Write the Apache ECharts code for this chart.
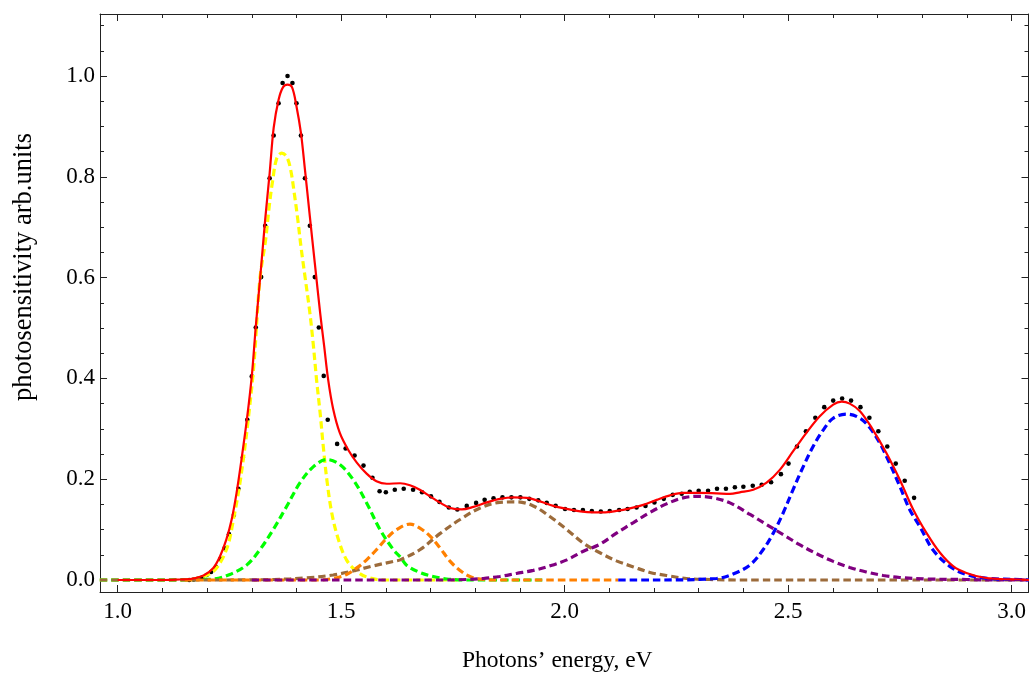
<!DOCTYPE html>
<html>
<head>
<meta charset="utf-8">
<script src="https://cdn.jsdelivr.net/npm/echarts@6/dist/echarts.min.js"></script>
<style>html,body{margin:0;padding:0;background:#fff}#c{width:1029px;height:677px}</style>
</head>
<body>
<div id="c"></div>
<script>
// ---- axis ranges and ticks ----
const X_MIN = 0.9604, X_MAX = 3.038;
const Y_MIN = -0.0238, Y_MAX = 1.123;
const X_TICKS = [1.0, 1.5, 2.0, 2.5, 3.0];
const X_MINOR = [1.0,1.1,1.2,1.3,1.4,1.5,1.6,1.7,1.8,1.9,2.0,2.1,2.2,2.3,2.4,2.5,2.6,2.7,2.8,2.9,3.0];
const Y_TICKS = [0.0, 0.2, 0.4, 0.6, 0.8, 1.0];
const Y_MINOR = [0,0.05,0.1,0.15,0.2,0.25,0.3,0.35,0.4,0.45,0.5,0.55,0.6,0.65,0.7,0.75,0.8,0.85,0.9,0.95,1.0,1.05,1.1];
const X_TITLE = 'Photons\u2019 energy, eV';
const Y_TITLE = 'photosensitivity arb.units';

// ---- measured points (black dots) ----
const measured = [
[1.160,0.000],[1.170,0.001],[1.180,0.003],[1.189,0.005],[1.199,0.010],[1.209,0.016],[1.220,0.026],
[1.230,0.042],[1.239,0.063],[1.249,0.091],[1.260,0.129],[1.270,0.181],[1.280,0.243],[1.290,0.318],
[1.300,0.404],[1.309,0.501],[1.321,0.601],[1.330,0.703],[1.340,0.797],[1.349,0.882],[1.360,0.946],
[1.369,0.986],[1.380,1.000],[1.391,0.986],[1.400,0.946],[1.410,0.882],[1.419,0.797],[1.430,0.703],
[1.441,0.601],[1.450,0.501],[1.461,0.405],[1.470,0.318],[1.491,0.270],[1.510,0.261],[1.530,0.247],
[1.550,0.227],[1.570,0.203],[1.586,0.176],[1.600,0.174],[1.620,0.179],[1.640,0.181],[1.661,0.179],
[1.681,0.174],[1.701,0.166],[1.720,0.155],[1.741,0.144],[1.760,0.140],[1.781,0.147],[1.802,0.153],
[1.821,0.159],[1.841,0.162],[1.861,0.164],[1.881,0.164],[1.901,0.164],[1.921,0.161],[1.941,0.158],
[1.960,0.153],[1.980,0.147],[2.001,0.141],[2.021,0.139],[2.041,0.139],[2.061,0.137],[2.081,0.136],
[2.101,0.137],[2.122,0.139],[2.141,0.141],[2.161,0.144],[2.181,0.147],[2.201,0.154],[2.222,0.161],
[2.242,0.169],[2.262,0.171],[2.280,0.175],[2.300,0.177],[2.321,0.177],[2.341,0.181],[2.361,0.181],
[2.381,0.184],[2.400,0.185],[2.421,0.187],[2.441,0.189],[2.462,0.194],[2.484,0.210],[2.501,0.231],
[2.520,0.265],[2.540,0.295],[2.561,0.322],[2.581,0.343],[2.601,0.356],[2.621,0.360],[2.641,0.356],
[2.662,0.343],[2.682,0.322],[2.702,0.295],[2.722,0.265],[2.741,0.231],[2.761,0.197],[2.782,0.163]
];

// ---- fitted sum (red) ----
const fitSum = [
[1.000,0.000],[1.100,0.000],[1.139,0.001],[1.162,0.002],[1.192,0.009],[1.214,0.024],[1.229,0.047],
[1.243,0.080],[1.255,0.120],[1.266,0.173],[1.277,0.239],[1.289,0.318],[1.300,0.404],[1.309,0.503],
[1.321,0.622],[1.330,0.715],[1.340,0.807],[1.349,0.897],[1.360,0.953],[1.370,0.978],[1.380,0.983],
[1.390,0.978],[1.400,0.940],[1.410,0.887],[1.419,0.814],[1.430,0.721],[1.441,0.629],[1.453,0.530],
[1.462,0.464],[1.471,0.397],[1.482,0.340],[1.497,0.292],[1.516,0.258],[1.535,0.233],[1.557,0.211],
[1.579,0.196],[1.602,0.191],[1.632,0.192],[1.654,0.188],[1.676,0.179],[1.699,0.166],[1.722,0.153],
[1.744,0.143],[1.770,0.140],[1.796,0.145],[1.826,0.154],[1.855,0.161],[1.885,0.164],[1.915,0.163],
[1.945,0.156],[1.975,0.147],[2.005,0.141],[2.035,0.136],[2.064,0.134],[2.086,0.134],[2.116,0.137],
[2.146,0.142],[2.176,0.149],[2.206,0.159],[2.236,0.168],[2.265,0.173],[2.303,0.173],[2.340,0.172],
[2.370,0.171],[2.392,0.174],[2.422,0.179],[2.452,0.193],[2.482,0.219],[2.511,0.255],[2.541,0.292],
[2.571,0.325],[2.601,0.348],[2.620,0.354],[2.638,0.350],[2.661,0.335],[2.690,0.298],[2.720,0.252],
[2.750,0.199],[2.780,0.140],[2.810,0.093],[2.840,0.054],[2.870,0.027],[2.899,0.014],[2.937,0.005],
[2.974,0.002],[3.019,0.001],[3.040,0.000]
];

// ---- components (dashed) ----
const compYellow = [
[0.960,0],[1.100,0],[1.154,0.000],[1.184,0.005],[1.214,0.017],[1.233,0.040],[1.248,0.073],[1.259,0.120],
[1.270,0.173],[1.281,0.239],[1.292,0.318],[1.305,0.430],[1.318,0.596],[1.331,0.675],[1.339,0.741],
[1.347,0.794],[1.356,0.837],[1.367,0.847],[1.378,0.840],[1.387,0.814],[1.395,0.768],[1.403,0.715],
[1.410,0.662],[1.418,0.609],[1.430,0.530],[1.438,0.464],[1.445,0.397],[1.453,0.331],[1.460,0.265],
[1.468,0.199],[1.479,0.133],[1.494,0.080],[1.512,0.040],[1.535,0.017],[1.564,0.004],[1.602,0.000],
[1.760,0]
];
const compGreen = [
[0.960,0],[1.100,0],[1.184,0.001],[1.214,0.002],[1.251,0.011],[1.289,0.030],[1.318,0.060],[1.348,0.100],
[1.378,0.146],[1.408,0.193],[1.438,0.225],[1.468,0.239],[1.497,0.229],[1.527,0.199],[1.557,0.153],
[1.587,0.100],[1.617,0.060],[1.632,0.046],[1.647,0.029],[1.676,0.015],[1.706,0.007],[1.736,0.002],
[1.780,0],[1.950,0]
];
const compBrown = [
[0.960,0],[1.200,0],[1.350,0.001],[1.420,0.004],[1.482,0.010],[1.527,0.018],[1.572,0.028],[1.617,0.037],
[1.632,0.040],[1.676,0.060],[1.721,0.092],[1.766,0.120],[1.811,0.143],[1.855,0.154],[1.893,0.155],
[1.930,0.147],[1.967,0.126],[2.005,0.100],[2.042,0.073],[2.079,0.054],[2.116,0.038],[2.154,0.026],
[2.191,0.015],[2.228,0.009],[2.273,0.003],[2.325,0.001],[2.400,0],[3.040,0]
];
const compOrange = [
[1.150,0],[1.450,0.000],[1.482,0.003],[1.512,0.011],[1.535,0.024],[1.557,0.040],[1.579,0.060],
[1.602,0.083],[1.624,0.100],[1.654,0.111],[1.676,0.103],[1.699,0.087],[1.721,0.064],[1.744,0.037],
[1.766,0.019],[1.788,0.007],[1.818,0.001],[1.850,0],[2.120,0]
];
const compPurple = [
[1.300,0],[1.729,0.000],[1.780,0.001],[1.818,0.003],[1.855,0.007],[1.892,0.013],[1.930,0.019],
[1.967,0.028],[2.005,0.040],[2.042,0.057],[2.079,0.071],[2.116,0.093],[2.154,0.114],[2.191,0.134],
[2.228,0.151],[2.265,0.163],[2.297,0.166],[2.333,0.163],[2.370,0.153],[2.415,0.130],[2.452,0.110],
[2.489,0.090],[2.526,0.070],[2.564,0.052],[2.601,0.037],[2.638,0.025],[2.675,0.016],[2.713,0.009],
[2.750,0.005],[2.810,0.002],[2.899,0.001],[2.960,0],[3.040,0]
];
const compBlue = [
[2.120,0],[2.200,0.000],[2.340,0.003],[2.377,0.012],[2.415,0.030],[2.444,0.060],[2.467,0.093],
[2.489,0.133],[2.511,0.179],[2.534,0.225],[2.556,0.265],[2.579,0.298],[2.601,0.321],[2.631,0.329],
[2.661,0.321],[2.683,0.302],[2.705,0.272],[2.727,0.232],[2.750,0.186],[2.772,0.140],[2.795,0.106],
[2.824,0.060],[2.862,0.027],[2.899,0.011],[2.951,0.003],[3.019,0.001],[3.040,0.000]
];

const FRAME = '#222';
const FONT = "'Liberation Serif', 'DejaVu Serif', serif";

function xAxisDef(pos, ticks, len, withLabel) {
  const a = {
    type: 'value', position: pos, min: X_MIN, max: X_MAX,
    axisLine: { show: withLabel !== null, onZero: false, lineStyle: { color: FRAME, width: 1 } },
    axisTick: { show: true, inside: true, length: len, customValues: ticks, lineStyle: { color: FRAME, width: 1 } },
    axisLabel: { show: false },
    splitLine: { show: false }
  };
  if (withLabel) {
    a.axisLabel = { show: true, customValues: X_TICKS, formatter: v => v.toFixed(1), margin: 8,
      fontFamily: FONT, fontSize: 23, color: '#000' };
    a.name = X_TITLE; a.nameLocation = 'middle'; a.nameGap = 57;
    a.nameTextStyle = { fontFamily: FONT, fontSize: 23.5, color: '#000', padding: [0, 14, 0, 0] };
  }
  return a;
}
function yAxisDef(pos, ticks, len, withLabel) {
  const a = {
    type: 'value', position: pos, min: Y_MIN, max: Y_MAX,
    axisLine: { show: withLabel !== null, onZero: false, lineStyle: { color: FRAME, width: 1 } },
    axisTick: { show: true, inside: true, length: len, customValues: ticks, lineStyle: { color: FRAME, width: 1 } },
    axisLabel: { show: false },
    splitLine: { show: false }
  };
  if (withLabel) {
    a.axisLabel = { show: true, customValues: Y_TICKS, formatter: v => v.toFixed(1), margin: 5,
      fontFamily: FONT, fontSize: 23, color: '#000' };
    a.name = Y_TITLE; a.nameLocation = 'middle'; a.nameGap = 62;
    a.nameTextStyle = { fontFamily: FONT, fontSize: 26.5, color: '#000', padding: [0, 0, 0, 72] };
  }
  return a;
}

function dashed(name, data, color) {
  return { name, type: 'line', data, xAxisIndex: 0, yAxisIndex: 0, showSymbol: false, symbol: 'none',
    smooth: 0.35, lineStyle: { color, width: 3.2, type: [7.5, 4], cap: 'butt' }, silent: true, animation: false };
}

const chart = echarts.init(document.getElementById('c'), null, { renderer: 'canvas' });
chart.setOption({
  backgroundColor: '#fff',
  animation: false,
  grid: { left: 100, right: 0.5, top: 14, bottom: 85, containLabel: false, outerBoundsMode: 'none' },
  xAxis: [
    xAxisDef('bottom', X_TICKS, 7, true),
    xAxisDef('bottom', X_MINOR, 4, null),
    xAxisDef('top', X_TICKS, 7, false),
    xAxisDef('top', X_MINOR, 4, null)
  ],
  yAxis: [
    yAxisDef('left', Y_TICKS, 7, true),
    yAxisDef('left', Y_MINOR, 4, null),
    yAxisDef('right', Y_TICKS, 7, false),
    yAxisDef('right', Y_MINOR, 4, null)
  ],
  series: [
    dashed('yellow', compYellow, '#ffff00'),
    dashed('green', compGreen, '#00ff00'),
    dashed('brown', compBrown, '#9c6b3b'),
    dashed('orange', compOrange, '#ff8000'),
    dashed('purple', compPurple, '#800080'),
    dashed('blue', compBlue, '#0000ff'),
    { name: 'fit', type: 'line', data: fitSum, showSymbol: false, symbol: 'none', smooth: 0.35,
      lineStyle: { color: '#ff0000', width: 2.2 } },
    { name: 'measured', type: 'scatter', data: measured, symbol: 'circle', symbolSize: 4.6,
      itemStyle: { color: '#000', opacity: 1 } }
  ]
});
</script>
</body>
</html>
